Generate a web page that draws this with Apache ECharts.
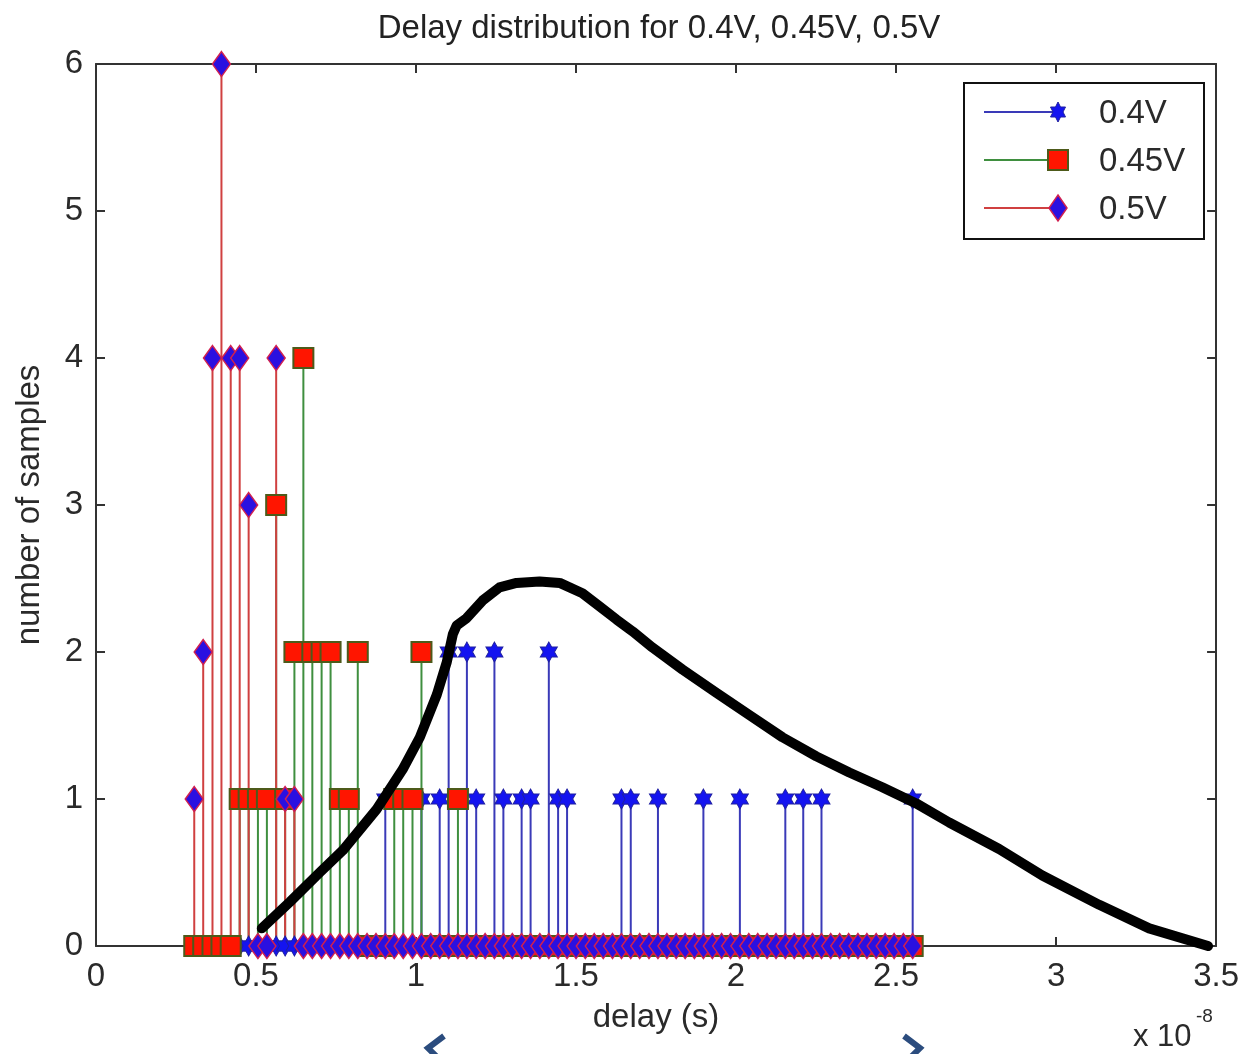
<!DOCTYPE html>
<html>
<head>
<meta charset="utf-8">
<title>Delay distribution</title>
<script src="https://cdn.jsdelivr.net/npm/echarts@6/dist/echarts.min.js"></script>
<style>
html, body { margin: 0; padding: 0; background: #fff; }
#main { width: 1242px; height: 1054px; }
</style>
</head>
<body>
<div id="main"></div>
<script>
// histogram bin centres (x 1e-8 s), shared by all three supplies
var binCenters = [0.307, 0.335, 0.364, 0.392, 0.421, 0.449, 0.477, 0.506, 0.534, 0.563,
	0.591, 0.620, 0.648, 0.676, 0.705, 0.733, 0.762, 0.790, 0.818, 0.847,
	0.875, 0.904, 0.932, 0.960, 0.989, 1.017, 1.046, 1.074, 1.102, 1.131,
	1.159, 1.188, 1.216, 1.245, 1.273, 1.301, 1.330, 1.358, 1.387, 1.415,
	1.444, 1.472, 1.500, 1.529, 1.557, 1.585, 1.614, 1.642, 1.671, 1.699,
	1.728, 1.756, 1.784, 1.813, 1.841, 1.870, 1.898, 1.926, 1.955, 1.983,
	2.012, 2.040, 2.068, 2.097, 2.125, 2.154, 2.182, 2.210, 2.239, 2.267,
	2.296, 2.324, 2.352, 2.381, 2.409, 2.438, 2.466, 2.494, 2.523, 2.552];

var counts04 = [0, 0, 0, 0, 0, 0, 0, 0, 0, 0,
	0, 0, 0, 0, 0, 0, 0, 0, 0, 0,
	0, 1, 0, 0, 0, 1, 0, 1, 2, 0,
	2, 1, 0, 2, 1, 0, 1, 1, 0, 2,
	1, 1, 0, 0, 0, 0, 0, 1, 1, 0,
	0, 1, 0, 0, 0, 0, 1, 0, 0, 0,
	1, 0, 0, 0, 0, 1, 0, 1, 0, 1,
	0, 0, 0, 0, 0, 0, 0, 0, 0, 1];

var counts045 = [0, 0, 0, 0, 0, 1, 1, 1, 1, 3,
	1, 2, 4, 2, 2, 2, 1, 1, 2, 0,
	0, 0, 1, 1, 1, 2, 0, 0, 0, 1,
	0, 0, 0, 0, 0, 0, 0, 0, 0, 0,
	0, 0, 0, 0, 0, 0, 0, 0, 0, 0,
	0, 0, 0, 0, 0, 0, 0, 0, 0, 0,
	0, 0, 0, 0, 0, 0, 0, 0, 0, 0,
	0, 0, 0, 0, 0, 0, 0, 0, 0, 0];

var counts05 = [1, 2, 4, 6, 4, 4, 3, 0, 0, 4,
	1, 1, 0, 0, 0, 0, 0, 0, 0, 0,
	0, 0, 0, 0, 0, 0, 0, 0, 0, 0,
	0, 0, 0, 0, 0, 0, 0, 0, 0, 0,
	0, 0, 0, 0, 0, 0, 0, 0, 0, 0,
	0, 0, 0, 0, 0, 0, 0, 0, 0, 0,
	0, 0, 0, 0, 0, 0, 0, 0, 0, 0,
	0, 0, 0, 0, 0, 0, 0, 0, 0, 0];

// hand drawn black curve
var curveX = [0.518, 0.606, 0.699, 0.771, 0.877, 0.958, 1.012, 1.065, 1.096, 1.115,
	1.127, 1.158, 1.208, 1.261, 1.314, 1.386, 1.449, 1.520, 1.574, 1.627,
	1.677, 1.739, 1.833, 1.940, 2.042, 2.145, 2.251, 2.354, 2.457, 2.563,
	2.666, 2.822, 2.957, 3.135, 3.291, 3.475];
var curveY = [0.12, 0.30, 0.50, 0.65, 0.93, 1.20, 1.42, 1.71, 1.93, 2.12,
	2.18, 2.23, 2.35, 2.44, 2.47, 2.48, 2.47, 2.40, 2.31, 2.22,
	2.14, 2.03, 1.88, 1.72, 1.57, 1.42, 1.29, 1.18, 1.08, 0.97,
	0.84, 0.66, 0.48, 0.28, 0.12, 0.0];

var seriesNames = ['0.4V', '0.45V', '0.5V'];
var xTicks = [0, 3.5, 0.5];   // min, max, step
var yTicks = [0, 6, 1];

var starPath = 'path://M0,-10L2.89,-5L8.66,-5L5.77,0L8.66,5L2.89,5L0,10L-2.89,5L-8.66,5L-5.77,0L-8.66,-5L-2.89,-5Z';
var fontName = 'Liberation Sans';

function pairs(counts) {
	return binCenters.map(function (x, i) { return [x, counts[i]]; });
}

function stemItem(params, api) {
	var x = api.value(0), y = api.value(1);
	if (!y) return null;
	var p0 = api.coord([x, 0]);
	var p1 = api.coord([x, y]);
	return {
		type: 'line',
		shape: {x1: p0[0], y1: p0[1], x2: p1[0], y2: p1[1]},
		style: {stroke: api.visual('color'), lineWidth: 2}
	};
}

function stems(name, counts, color) {
	return {
		name: name,
		type: 'custom',
		renderItem: stemItem,
		itemStyle: {color: color},
		encode: {x: 0, y: 1},
		clip: false,
		data: pairs(counts)
	};
}

function markers(name, counts, symbol, size, fill, border, bw) {
	return {
		name: name,
		type: 'scatter',
		symbol: symbol,
		symbolSize: size,
		clip: false,
		itemStyle: {color: fill, borderColor: border, borderWidth: bw, opacity: 1},
		data: pairs(counts)
	};
}

var chartDom = document.getElementById('main');
var myChart = echarts.init(chartDom);

var axisText = {color: '#2a2a2a', fontSize: 33, fontFamily: fontName};
var boxLine = {show: true, onZero: false, lineStyle: {color: '#333', width: 2}};
var boxTick = {show: true, inside: true, length: 9, lineStyle: {color: '#333', width: 2}};

function legendRow(y, lineColor, marker, label) {
	return [
		{type: 'line', shape: {x1: 20, y1: y, x2: 94, y2: y}, style: {stroke: lineColor, lineWidth: 2}},
		marker,
		{type: 'text', x: 135, y: y + 2, style: {text: label, fontSize: 33, fontFamily: fontName, fill: '#2a2a2a', verticalAlign: 'middle'}}
	];
}

var legendChildren = [
	{type: 'rect', shape: {x: 0, y: 0, width: 240, height: 156}, style: {fill: '#fff', stroke: '#111', lineWidth: 2}}
].concat(
	legendRow(29, '#3a3ab8', {type: 'polygon', shape: {points: [[94, 19], [96.5, 24], [101.5, 24], [99, 29], [101.5, 34], [96.5, 34], [94, 39], [91.5, 34], [86.5, 34], [89, 29], [86.5, 24], [91.5, 24]]}, style: {fill: '#1414f0', stroke: '#2020a0', lineWidth: 1}}, seriesNames[0]),
	legendRow(77, '#3f8f3f', {type: 'rect', shape: {x: 84, y: 67, width: 20, height: 20}, style: {fill: '#ff1500', stroke: '#4d5a1a', lineWidth: 2}}, seriesNames[1]),
	legendRow(125, '#d04040', {type: 'polygon', shape: {points: [[94, 112], [103, 125], [94, 138], [85, 125]]}, style: {fill: '#2a10e0', stroke: '#d02050', lineWidth: 1.5}}, seriesNames[2])
);

var option = {
	animation: false,
	backgroundColor: '#fff',
	title: {
		text: 'Delay distribution for 0.4V, 0.45V, 0.5V',
		left: 654,
		top: 4,
		textAlign: 'center',
		textStyle: {color: '#222', fontSize: 33, fontWeight: 'normal', fontFamily: fontName, lineHeight: 40}
	},
	grid: {left: 96, right: 25, top: 64, bottom: 108, containLabel: false},
	xAxis: [
		{
			type: 'value', position: 'bottom', min: xTicks[0], max: xTicks[1], interval: xTicks[2],
			name: 'delay (s)', nameLocation: 'middle', nameGap: 55,
			nameTextStyle: axisText,
			axisLine: boxLine,
			axisTick: boxTick,
			axisLabel: {margin: 14, color: '#2a2a2a', fontSize: 33, fontFamily: fontName},
			splitLine: {show: false}
		},
		{
			type: 'value', position: 'top', min: xTicks[0], max: xTicks[1], interval: xTicks[2],
			axisLine: boxLine,
			axisTick: boxTick,
			axisLabel: {show: false},
			splitLine: {show: false}
		}
	],
	yAxis: [
		{
			type: 'value', position: 'left', min: yTicks[0], max: yTicks[1], interval: yTicks[2],
			name: 'number of samples', nameLocation: 'middle', nameGap: 50,
			nameTextStyle: axisText,
			axisLine: boxLine,
			axisTick: boxTick,
			axisLabel: {margin: 13, color: '#2a2a2a', fontSize: 33, fontFamily: fontName},
			splitLine: {show: false}
		},
		{
			type: 'value', position: 'right', min: yTicks[0], max: yTicks[1], interval: yTicks[2],
			axisLine: boxLine,
			axisTick: boxTick,
			axisLabel: {show: false},
			splitLine: {show: false}
		}
	],
	graphic: [
		{type: 'group', left: 963, top: 82, children: legendChildren},
		{type: 'text', x: 1133, y: 1037, style: {text: 'x 10', fontSize: 31, fontFamily: fontName, fill: '#2a2a2a', verticalAlign: 'middle'}},
		{type: 'text', x: 1196, y: 1017, style: {text: '-8', fontSize: 19, fontFamily: fontName, fill: '#2a2a2a', verticalAlign: 'middle'}},
		{type: 'polyline', shape: {points: [[444, 1036], [428, 1048], [440, 1060]]}, style: {stroke: '#2b4c7e', lineWidth: 6, fill: null}},
		{type: 'polyline', shape: {points: [[904, 1036], [920, 1048], [908, 1060]]}, style: {stroke: '#2b4c7e', lineWidth: 6, fill: null}}
	],
	series: [
		stems(seriesNames[0], counts04, '#3a3ab8'),
		markers(seriesNames[0], counts04, starPath, [17, 20], '#1414f0', '#2020a0', 1),
		stems(seriesNames[1], counts045, '#3f8f3f'),
		markers(seriesNames[1], counts045, 'rect', 20, '#ff1500', '#4d5a1a', 2),
		stems(seriesNames[2], counts05, '#d04040'),
		markers(seriesNames[2], counts05, 'diamond', [18, 25], '#2a10e0', '#d02050', 1.5),
		{
			name: 'fit',
			type: 'line',
			showSymbol: false,
			clip: false,
			lineStyle: {color: '#000', width: 10, cap: 'round', join: 'round'},
			data: curveX.map(function (x, i) { return [x, curveY[i]]; })
		}
	]
};

option && myChart.setOption(option);
</script>
</body>
</html>
